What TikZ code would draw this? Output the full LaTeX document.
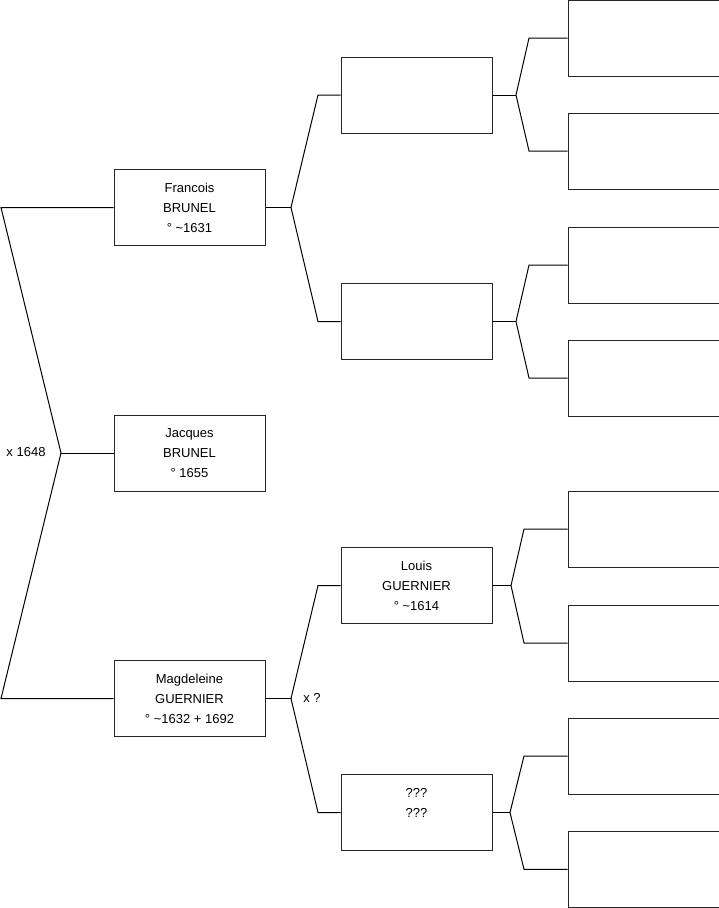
\documentclass[tikz,border=0pt]{standalone}
\usepackage{fontspec}
\setmainfont{Liberation Sans}
\begin{document}
\begin{tikzpicture}[x=1pt,y=-1pt,
  pbox/.style={draw=black!85, line width=1pt, fill=white, minimum width=151pt, minimum height=76pt,
    inner sep=0pt, align=center, font=\fontsize{13}{20}\selectfont},
  link/.style={draw=black, line width=1pt},
  lbl/.style={font=\fontsize{13}{14}\selectfont, inner sep=0pt}]
\useasboundingbox (0,0) rectangle (719,908);
% generation 1
\node[pbox] (f) at (189.5,207.5) {Francois\\BRUNEL\\° \textasciitilde1631};
\node[pbox] (j) at (189.5,453) {Jacques\\BRUNEL\\° 1655};
\node[pbox] (m) at (189.5,698.5) {Magdeleine\\GUERNIER\\° \textasciitilde1632 + 1692};
% generation 2
\node[pbox] (ff) at (416.5,95) {};
\node[pbox] (fm) at (416.5,321.5) {};
\node[pbox] (mf) at (416.5,585.5) {Louis\\GUERNIER\\° \textasciitilde1614};
\node[pbox] (mm) at (416.5,812.5) {???\\???\\\phantom{?}};
% generation 3
\node[pbox] (a1) at (643.5,38) {};
\node[pbox] (a2) at (643.5,151) {};
\node[pbox] (a3) at (643.5,265) {};
\node[pbox] (a4) at (643.5,378) {};
\node[pbox] (a5) at (643.5,529) {};
\node[pbox] (a6) at (643.5,643) {};
\node[pbox] (a7) at (643.5,756) {};
\node[pbox] (a8) at (643.5,869.3) {};
% left bracket
\coordinate (l0) at (1,207.5);
\coordinate (l1) at (61,453);
\coordinate (l2) at (1,698.5);
\draw[link] (f.west) -- (l0) -- (l1) -- (l2) -- (m.west);
\draw[link] (l1) -- (j.west);
\node[lbl] (x1) at (26,452) {x 1648};
% Francois bracket
\coordinate (b0) at (291,207.5);
\coordinate (b1) at (318,95);
\coordinate (b2) at (318,321.5);
\draw[link] (f.east) -- (b0);
\draw[link] (ff.west) -- (b1) -- (b0) -- (b2) -- (fm.west);
% Magdeleine bracket
\coordinate (c0) at (291,698.5);
\coordinate (c1) at (318,585.5);
\coordinate (c2) at (318,812.5);
\draw[link] (m.east) -- (c0);
\draw[link] (mf.west) -- (c1) -- (c0) -- (c2) -- (mm.west);
\node[lbl] (x2) at (312,698) {x ?};
% gen 2 -> gen 3
\coordinate (d0) at (516,95);
\coordinate (d1) at (529,38);
\coordinate (d2) at (529,151);
\draw[link] (ff.east) -- (d0);
\draw[link] (a1.west) -- (d1) -- (d0) -- (d2) -- (a2.west);
\coordinate (e0) at (516,321.5);
\coordinate (e1) at (529,265);
\coordinate (e2) at (529,378);
\draw[link] (fm.east) -- (e0);
\draw[link] (a3.west) -- (e1) -- (e0) -- (e2) -- (a4.west);
\coordinate (g0) at (511,585.5);
\coordinate (g1) at (524,529);
\coordinate (g2) at (524,643);
\draw[link] (mf.east) -- (g0);
\draw[link] (a5.west) -- (g1) -- (g0) -- (g2) -- (a6.west);
\coordinate (h0) at (510,812.5);
\coordinate (h1) at (524,756);
\coordinate (h2) at (524,869.3);
\draw[link] (mm.east) -- (h0);
\draw[link] (a7.west) -- (h1) -- (h0) -- (h2) -- (a8.west);
\end{tikzpicture}
\end{document}
